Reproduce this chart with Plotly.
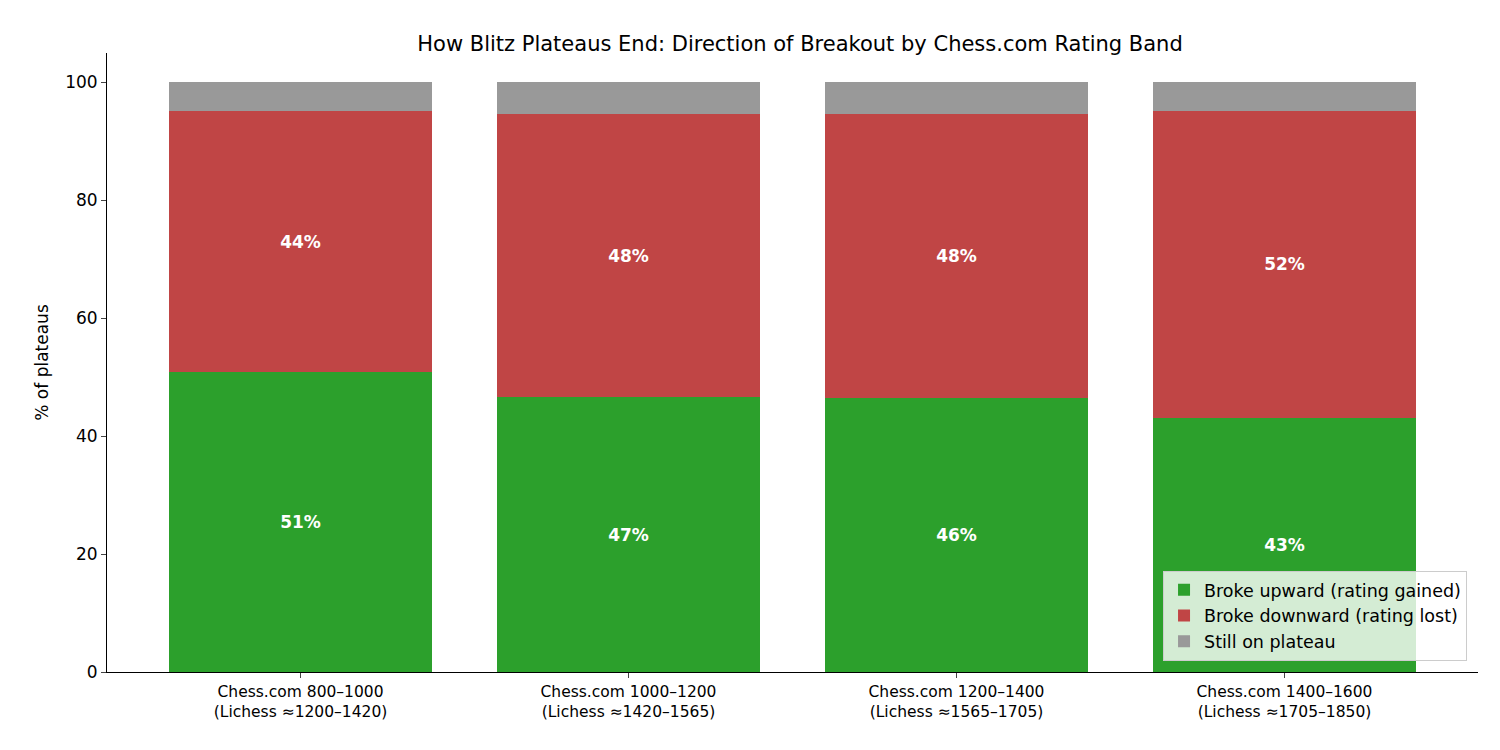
import plotly.graph_objects as go

bands = ["Chess.com 800–1000<br>(Lichess ≈1200–1420)",
         "Chess.com 1000–1200<br>(Lichess ≈1420–1565)",
         "Chess.com 1200–1400<br>(Lichess ≈1565–1705)",
         "Chess.com 1400–1600<br>(Lichess ≈1705–1850)"]
broke_up = [50.9, 46.6, 46.4, 43.1]
broke_down = [44.2, 48.0, 48.3, 52.1]
still = [round(100 - u - d, 1) for u, d in zip(broke_up, broke_down)]

xpos = list(range(len(bands)))
font = "DejaVu Sans, sans-serif"

fig = go.Figure()
series = [
    ("Broke upward (rating gained)", broke_up, "#2ca02c", True),
    ("Broke downward (rating lost)", broke_down, "#c04545", True),
    ("Still on plateau", still, "#999999", False),
]
for name, vals, color, lab in series:
    fig.add_trace(go.Bar(
        x=xpos, y=vals, name=name, width=0.8,
        marker=dict(color=color, line=dict(width=0)),
        text=[f"<b>{v:.0f}%</b>" for v in vals] if lab else None,
        textposition="inside" if lab else "none",
        insidetextanchor="middle",
        textfont=dict(color="white", size=17, family=font),
        hoverinfo="y+name",
    ))

fig.update_layout(
    barmode="stack",
    width=1500, height=750,
    paper_bgcolor="white", plot_bgcolor="white",
    margin=dict(l=99, r=30, t=45, b=86),
    font=dict(family=font, size=16, color="black"),
    title=dict(text="How Blitz Plateaus End: Direction of Breakout by Chess.com Rating Band",
               x=0.528, xanchor="center", y=0.962, font=dict(size=21)),
    xaxis=dict(range=[-0.59, 3.59], tickvals=xpos, ticktext=bands,
               showline=True, linecolor="black", ticks="outside", ticklen=5,
               showgrid=False, zeroline=False, tickfont=dict(size=15.5)),
    yaxis=dict(range=[0, 105], tickvals=[0, 20, 40, 60, 80, 100],
               showline=True, linecolor="black", ticks="outside", ticklen=5,
               showgrid=False, zeroline=False, tickfont=dict(size=17),
               title=dict(text="% of plateaus", font=dict(size=17), standoff=12)),
    legend=dict(x=0.992, y=0.018, xanchor="right", yanchor="bottom",
                traceorder="normal", bgcolor="rgba(255,255,255,0.8)",
                bordercolor="#cccccc", borderwidth=1, font=dict(size=17.5)),
    uniformtext=dict(minsize=10, mode="show"),
)

fig.write_html("out.html")
